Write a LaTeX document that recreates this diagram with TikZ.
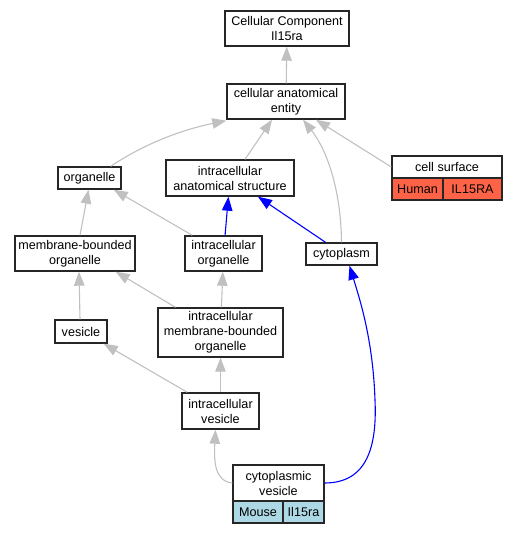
\documentclass[tikz,border=0pt]{standalone}
\usepackage{fontspec}
\setmainfont{Liberation Sans}
\usetikzlibrary{arrows.meta}

\definecolor{edgegray}{RGB}{192,192,192}
\definecolor{humanred}{RGB}{255,99,71}
\definecolor{mouseblue}{RGB}{173,216,230}

\tikzset{
  term/.style={draw=black!85, line width=1.4pt, fill=white, inner sep=2pt,
    align=center, font=\fontsize{12.6}{15}\selectfont},
  isa/.style={draw=edgegray, line width=1.1pt,
    -{Triangle[length=14pt,width=10.5pt]}},
  partof/.style={draw=blue, line width=1.1pt,
    -{Triangle[length=14pt,width=10.5pt]}}
}

\begin{document}
\begin{tikzpicture}[x=1pt, y=-1pt]

  \useasboundingbox (0,0) rectangle (509,533);

  % terms
  \node[term, minimum width=124pt, minimum height=35pt] (cc) at (287,28.5) {Cellular Component\\Il15ra};
  \node[term, minimum width=118pt, minimum height=35pt] (cae) at (286,101.5) {cellular anatomical\\entity};
  \node[term, minimum width=63pt, minimum height=22pt] (org) at (89.5,178) {organelle};
  \node[term, minimum width=128pt, minimum height=36pt] (ias) at (230,178) {intracellular\\anatomical structure};
  \node[term, minimum width=120pt, minimum height=35pt] (mbo) at (75,253.5) {membrane-bounded\\organelle};
  \node[term, minimum width=77pt, minimum height=35pt] (io) at (223.5,253.5) {intracellular\\organelle};
  \node[term, minimum width=71pt, minimum height=22pt] (cyto) at (341.5,254) {cytoplasm};
  \node[term, minimum width=52pt, minimum height=23pt] (ves) at (81,331.5) {vesicle};
  \node[term, minimum width=125pt, minimum height=49pt] (imbo) at (220.5,332.5) {intracellular\\membrane-bounded\\organelle};
  \node[term, minimum width=77pt, minimum height=36pt] (iv) at (220.5,411) {intracellular\\vesicle};

  % annotated terms
  \node[term, minimum width=110pt, minimum height=22pt] (cs) at (447,167) {cell surface};
  \node[term, fill=humanred, minimum width=51pt, minimum height=22pt] (csh) at (417.5,189) {Human};
  \node[term, fill=humanred, minimum width=59pt, minimum height=22pt] (csg) at (472.5,189) {IL15RA};

  \node[term, minimum width=91pt, minimum height=36pt] (cytv) at (278.5,483) {cytoplasmic\\vesicle};
  \node[term, fill=mouseblue, minimum width=50pt, minimum height=22pt] (cytm) at (258,512) {Mouse};
  \node[term, fill=mouseblue, minimum width=41pt, minimum height=22pt] (cytg) at (303.5,512) {Il15ra};

  % is_a
  \draw[isa] (cae) -- (cc);
  \draw[isa] ([xshift=-11pt]org.north east) .. controls (150,140) and (190,128) .. ([yshift=-1pt]cae.south west);
  \draw[isa] ([xshift=15pt]ias.north) -- ([xshift=-14pt]cae.south);
  \draw[isa] (cyto.north) .. controls (341,190) and (327,150) .. ([xshift=17pt]cae.south);
  \draw[isa] (cs.west) -- ([xshift=30pt]cae.south);
  \draw[isa] ([xshift=5pt]mbo.north) -- ([xshift=-1pt]org.south);
  \draw[isa] ([xshift=8pt]io.north west) -- ([xshift=-8pt]org.south east);
  \draw[isa] ([xshift=-1pt]ves.north) -- ([xshift=4pt]mbo.south);
  \draw[isa] ([xshift=-45pt]imbo.north) -- ([xshift=-20pt]mbo.south east);
  \draw[isa] (imbo) -- (io);
  \draw[isa] ([xshift=6pt]iv.north west) -- ([xshift=-4pt]ves.south east);
  \draw[isa] (iv) -- (imbo);
  \draw[isa] (cytv.west) .. controls (214,481) and (214,460) .. ([xshift=-5pt]iv.south);

  % part_of
  \draw[partof] (io) -- (ias);
  \draw[partof] ([xshift=-16pt]cyto.north) -- ([xshift=28pt]ias.south);
  \draw[partof] (cytv.east) .. controls (368,483) and (377,445) .. (375,400)
    .. controls (373,340) and (360,300) .. ([xshift=8pt]cyto.south);

\end{tikzpicture}
\end{document}
